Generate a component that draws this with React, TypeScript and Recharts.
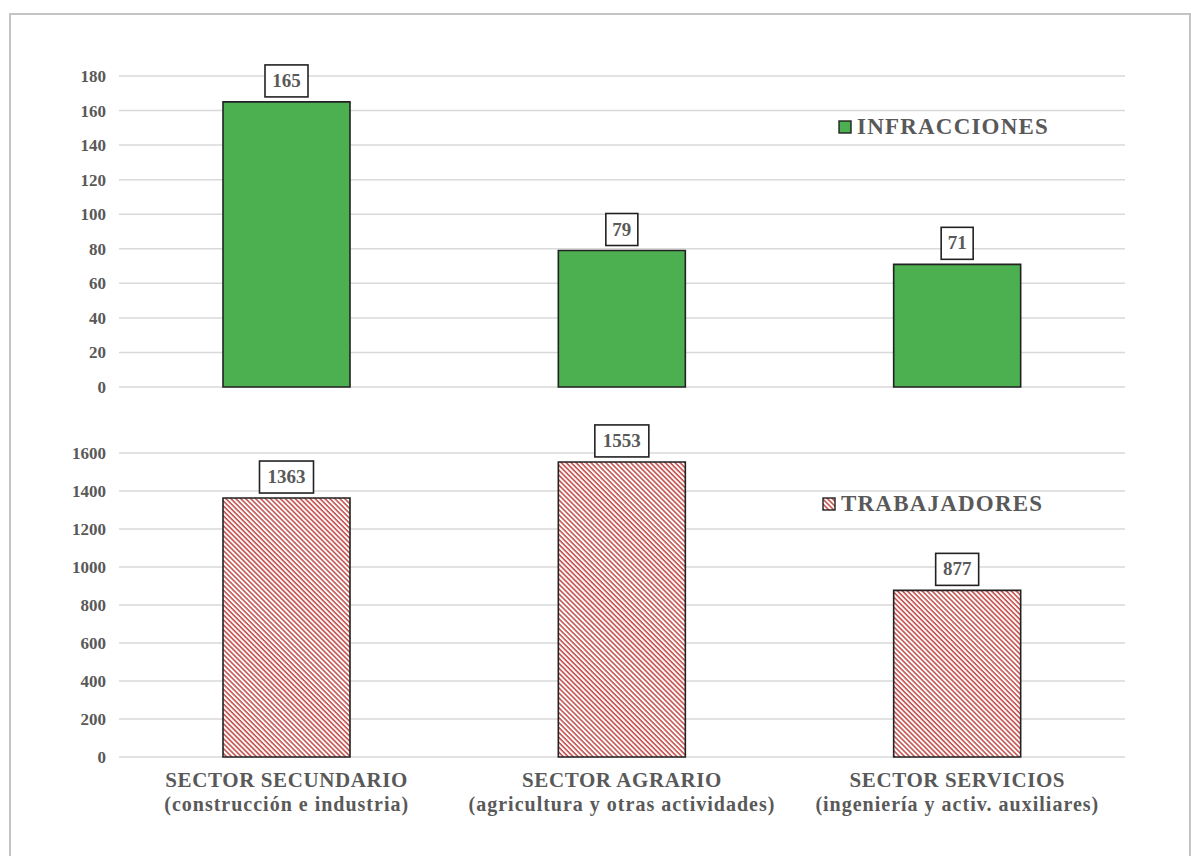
import React from "react";
import { BarChart, Bar, XAxis, YAxis, CartesianGrid, LabelList, Legend } from "recharts";

const categories = ["SECTOR SECUNDARIO", "SECTOR AGRARIO", "SECTOR SERVICIOS"];
const subLabels = ["(construcción e industria)", "(agricultura y otras actividades)", "(ingeniería y activ. auxiliares)"];
const infracciones = [165, 79, 71];
const trabajadores = [1363, 1553, 877];
const topTicks = [0, 20, 40, 60, 80, 100, 120, 140, 160, 180];
const bottomTicks = [0, 200, 400, 600, 800, 1000, 1200, 1400, 1600];

const data = categories.map((c, i) => ({
  name: c,
  sub: subLabels[i],
  infracciones: infracciones[i],
  trabajadores: trabajadores[i],
}));

const FONT = "Liberation Serif, DejaVu Serif, serif";
const GRAY = "#595959";
const GREEN = "#4caf50";
const RED = "#c4524f";

const BoxLabel = (props: any) => {
  const { x, y, width, value } = props;
  const cx = x + width / 2;
  const s = String(value);
  const w = s.length * 11 + 10;
  const h = 32;
  const bottom = y - 5;
  return (
    <g>
      <rect x={cx - w / 2} y={bottom - h} width={w} height={h} fill="#fff" stroke="#222" strokeWidth={1.6} />
      <text x={cx} y={bottom - 10} textAnchor="middle" style={{ fontFamily: FONT, fontWeight: 700, fontSize: 19 }} fill={GRAY}>
        {s}
      </text>
    </g>
  );
};

const CatTick = (props: any) => {
  const { x, y, payload, index } = props;
  const i = typeof index === "number" ? index : categories.indexOf(payload.value);
  return (
    <g>
      <text x={x} y={y + 22} textAnchor="middle" style={{ fontFamily: FONT, fontWeight: 700, fontSize: 21, letterSpacing: 0.6 }} fill={GRAY}>
        {payload.value}
      </text>
      <text x={x} y={y + 46} textAnchor="middle" style={{ fontFamily: FONT, fontWeight: 700, fontSize: 20, letterSpacing: 1 }} fill={GRAY}>
        {subLabels[i]}
      </text>
    </g>
  );
};

const LegendItem = ({ label, hatch }: { label: string; hatch: boolean }) => (
  <div style={{ display: "flex", alignItems: "center", fontFamily: FONT, fontWeight: 700, fontSize: 23, letterSpacing: 1.2, color: GRAY, whiteSpace: "nowrap" }}>
    <svg width={14} height={14} style={{ marginRight: 5 }}>
      <rect x={1} y={1} width={12} height={12} fill={hatch ? "url(#hatch)" : GREEN} stroke="#222" strokeWidth={1.4} />
    </svg>
    <span>{label}</span>
  </div>
);

const tickStyle = { fontFamily: FONT, fontWeight: 700, fontSize: 17, fill: GRAY };

export default function App() {
  return (
    <div style={{ position: "absolute", left: 0, top: 0, width: 1191, height: 856, overflow: "hidden", background: "#fff" }}>
      <svg width={0} height={0} style={{ position: "absolute" }}>
        <defs>
          <pattern id="hatch" patternUnits="userSpaceOnUse" width={3.5} height={3.5} patternTransform="rotate(45)">
            <rect x={0} y={0} width={3.5} height={3.5} fill="#fff" />
            <rect x={0} y={0} width={3.5} height={1.6} fill={RED} />
          </pattern>
        </defs>
      </svg>
      <div style={{ position: "absolute", left: 9, top: 13, width: 1178, height: 900, border: "2px solid #c4c4c4" }} />
      <div style={{ position: "absolute", left: 0, top: 0 }}>
        <BarChart width={1191} height={420} data={data} margin={{ top: 76, right: 66, bottom: 33, left: 0 }}>
          <CartesianGrid vertical={false} stroke="#d9d9d9" strokeWidth={1.5} />
          <XAxis dataKey="name" hide />
          <YAxis width={119} domain={[0, 180]} ticks={topTicks} axisLine={false} tickLine={false} tickSize={0} tickMargin={13} tick={tickStyle} interval={0} />
          <Legend
            layout="vertical"
            align="center"
            verticalAlign="middle"
            wrapperStyle={{ top: 114, left: 838, width: 320 }}
            content={() => <LegendItem label="INFRACCIONES" hatch={false} />}
          />
          <Bar dataKey="infracciones" name="INFRACCIONES" fill={GREEN} stroke="#222" strokeWidth={1.6} barSize={127} isAnimationActive={false}>
            <LabelList dataKey="infracciones" content={BoxLabel} />
          </Bar>
        </BarChart>
      </div>
      <div style={{ position: "absolute", left: 0, top: 420 }}>
        <BarChart width={1191} height={436} data={data} margin={{ top: 33, right: 66, bottom: 39, left: 0 }}>
          <CartesianGrid vertical={false} stroke="#d9d9d9" strokeWidth={1.5} />
          <XAxis dataKey="name" axisLine={false} tickLine={false} height={60} tick={<CatTick />} interval={0} />
          <YAxis width={119} domain={[0, 1600]} ticks={bottomTicks} axisLine={false} tickLine={false} tickSize={0} tickMargin={13} tick={tickStyle} interval={0} />
          <Legend
            layout="vertical"
            align="center"
            verticalAlign="middle"
            wrapperStyle={{ top: 71, left: 822, width: 320 }}
            content={() => <LegendItem label="TRABAJADORES" hatch={true} />}
          />
          <Bar dataKey="trabajadores" name="TRABAJADORES" fill="url(#hatch)" stroke="#222" strokeWidth={1.6} barSize={127} isAnimationActive={false}>
            <LabelList dataKey="trabajadores" content={BoxLabel} />
          </Bar>
        </BarChart>
      </div>
    </div>
  );
}
